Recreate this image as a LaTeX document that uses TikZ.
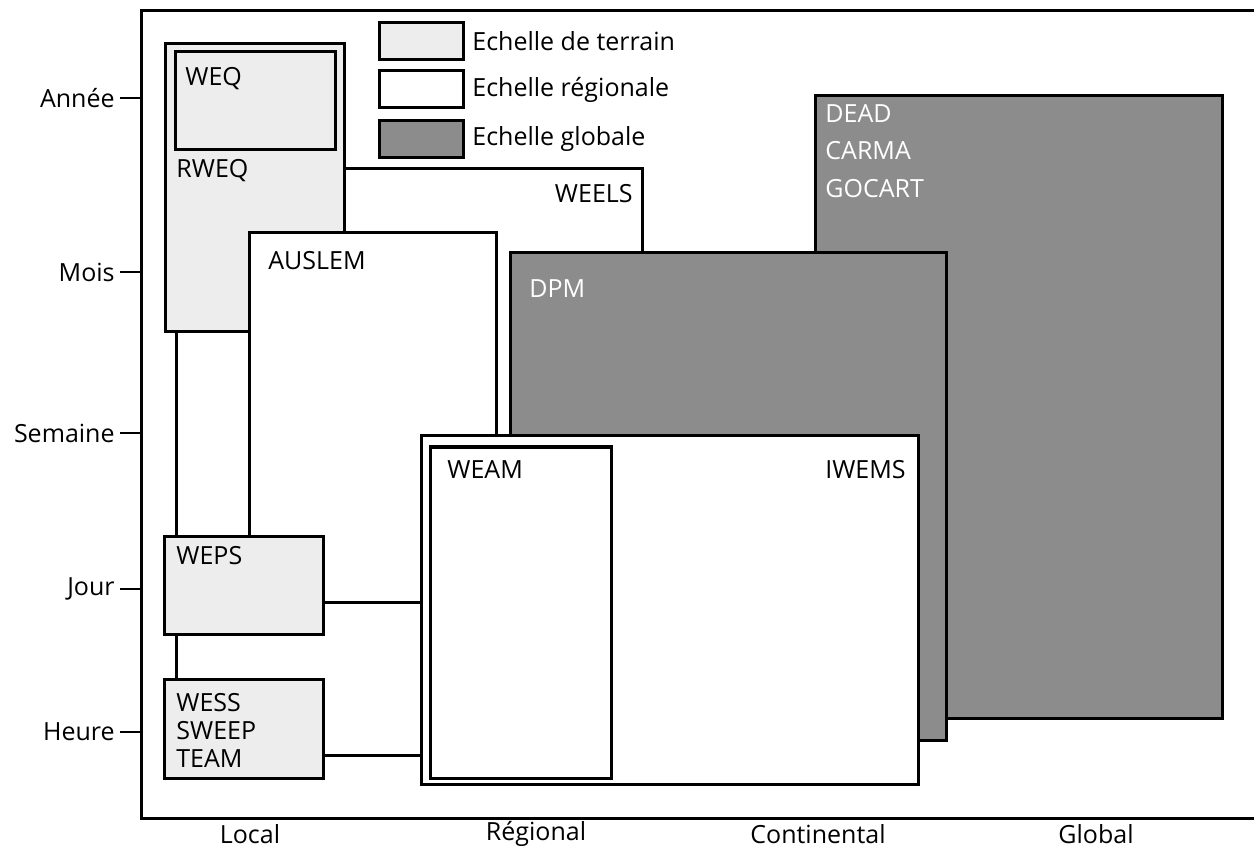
\documentclass[tikz,border=0pt]{standalone}
\usepackage{fontspec}
\setmainfont{Open Sans}
\usepackage{tikz}
\usetikzlibrary{positioning}
\usepackage{xcolor}
\definecolor{terrainfill}{gray}{0.93}
\definecolor{globalfill}{gray}{0.55}

\begin{document}
\begin{tikzpicture}[
  x=0.5pt, y=-0.5pt,
  terrain/.style = {draw, line width=1.5pt, fill=terrainfill, anchor=north west,
                    inner sep=0pt, outer sep=0pt},
  regio/.style   = {draw, line width=1.5pt, fill=white, anchor=north west,
                    inner sep=0pt, outer sep=0pt},
  globe/.style   = {draw, line width=1.5pt, fill=globalfill, anchor=north west,
                    inner sep=0pt, outer sep=0pt},
  frame/.style   = {draw, line width=1.5pt, anchor=north west, inner sep=0pt, outer sep=0pt},
  lbl/.style     = {font=\fontsize{12.5}{14}\selectfont, inner sep=0pt, align=left},
  wlbl/.style    = {lbl, text=white},
  tick/.style    = {line width=0.7pt, shorten <=2.5pt},
]
\useasboundingbox (0,0) rectangle (1254,850);

% ── Frame ─────────────────────────────────────────────────────────────────────
\node[frame, minimum width=560.5pt, minimum height=403.5pt] (frame) at (141,11) {};

% ── Back boxes ────────────────────────────────────────────────────────────────
\node[regio, minimum width=233pt, minimum height=293pt] (weels) at (176,169) {};
\node[lbl, below left=7.5pt and 4.5pt of weels.north east] (weelst) {WEELS};

\node[globe, minimum width=203.5pt, minimum height=311pt] (dead) at (815,96) {};
\node[wlbl, below right=4pt and 5pt of dead.north west, font=\fontsize{12.5}{18.75}\selectfont]
      (deadt) {DEAD\\CARMA\\GOCART};

\node[globe, minimum width=218pt, minimum height=243.5pt] (dpm) at (510,253) {};
\node[wlbl, below right=13pt and 9.5pt of dpm.north west] (dpmt) {DPM};

% ── Terrain boxes (top) ──────────────────────────────────────────────────────
\node[terrain, minimum width=89.5pt, minimum height=144pt] (rweq) at (165,44) {};
\node[terrain, minimum width=80pt, minimum height=49pt] (weq) at (175,52) {};
\node[lbl, below right=7.5pt and 5pt of weq.north west] (weqt) {WEQ};
\node[lbl, below right=4.5pt and 0.5pt of weq.south west] (rweqt) {RWEQ};

% ── Regional boxes ────────────────────────────────────────────────────────────
\node[regio, minimum width=123.5pt, minimum height=184.5pt] (auslem) at (249,233) {};
\node[lbl, below right=9pt and 9.5pt of auslem.north west] (auslemt) {AUSLEM};

\node[regio, minimum width=248.5pt, minimum height=174pt] (iwems) at (421,436) {};
\node[lbl, below left=12pt and 6pt of iwems.north east] (iwemst) {IWEMS};

\node[regio, minimum width=90.5pt, minimum height=165.5pt] (weam) at (430,447) {};
\node[lbl, below right=6.5pt and 8.5pt of weam.north west] (weamt) {WEAM};

% ── Terrain boxes (bottom) ───────────────────────────────────────────────────
\node[terrain, minimum width=79.5pt, minimum height=49pt] (weps) at (164,536) {};
\node[lbl, below right=5pt and 6pt of weps.north west] (wepst) {WEPS};

\node[terrain, minimum width=79.5pt, minimum height=49.5pt] (wess) at (164,679) {};
\node[lbl, below right=7pt and 6pt of wess.north west] (wesst) {WESS\\SWEEP\\TEAM};

% ── Legend ────────────────────────────────────────────────────────────────────
\node[terrain, minimum width=42pt, minimum height=18.5pt] (legt) at (379,23) {};
\node[regio,   minimum width=42pt, minimum height=18.5pt] (legr) at (379,71) {};
\node[globe,   minimum width=42pt, minimum height=18.5pt] (legg) at (379,121) {};
\node[lbl, right=4.5pt of legt] (legtt) {Echelle de terrain};
\node[lbl, right=4.5pt of legr] (legrt) {Echelle régionale};
\node[lbl, right=4.5pt of legg] (leggt) {Echelle globale};

% ── Time axis ─────────────────────────────────────────────────────────────────
\node[lbl, anchor=east] (annee)   at (115,98)  {Année};
\node[lbl, anchor=east] (mois)    at (115,272) {Mois};
\node[lbl, anchor=east] (semaine) at (115,433) {Semaine};
\node[lbl, anchor=east] (jour)    at (115,589) {Jour};
\node[lbl, anchor=east] (heure)   at (115,732) {Heure};

\draw[tick] (annee)   -- (annee -| frame.west);
\draw[tick] (mois)    -- (mois -| frame.west);
\draw[tick] (semaine) -- (semaine -| frame.west);
\draw[tick] (jour)    -- (jour -| frame.west);
\draw[tick] (heure)   -- (heure -| frame.west);

% ── Space axis ────────────────────────────────────────────────────────────────
\node[lbl] (local)  at (250,834)  {Local};
\node[lbl] (region) at (536,834)  {Régional};
\node[lbl] (conti)  at (818,834)  {Continental};
\node[lbl] (global) at (1096,834) {Global};

\end{tikzpicture}
\end{document}
